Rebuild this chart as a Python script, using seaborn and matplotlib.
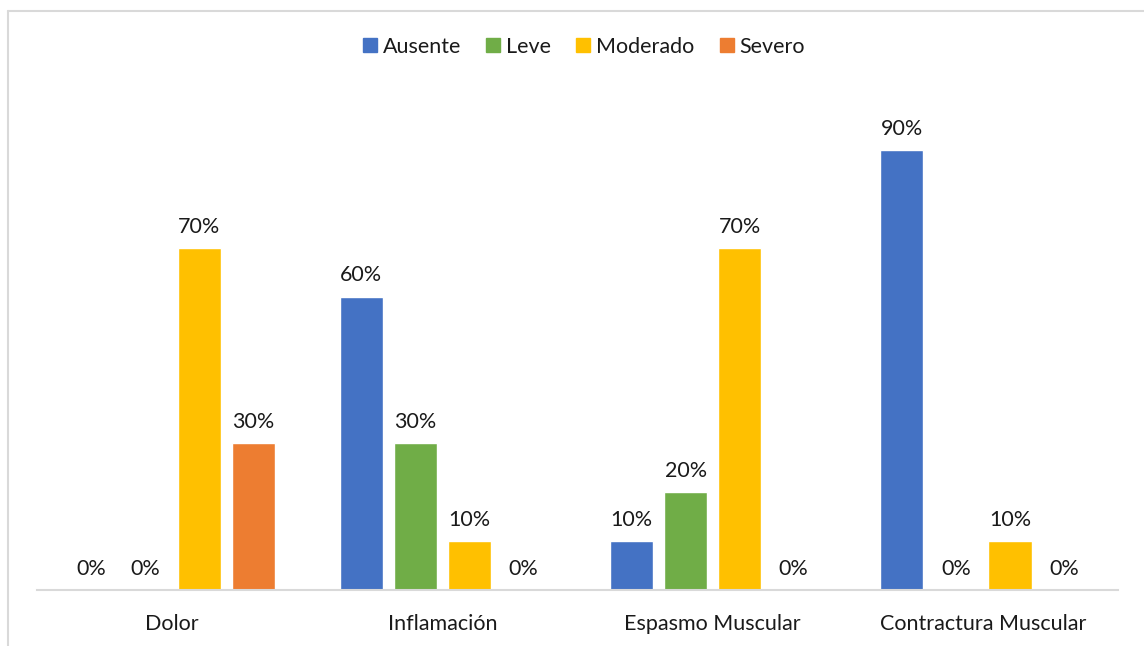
import numpy as np
import pandas as pd
import matplotlib
matplotlib.use("Agg")
import matplotlib.pyplot as plt
from matplotlib.lines import Line2D
import seaborn as sns

# datos
categorias = ["Dolor", "Inflamación", "Espasmo Muscular", "Contractura Muscular"]
niveles = ["Ausente", "Leve", "Moderado", "Severo"]
ausente = [0, 60, 10, 90]
leve = [0, 30, 20, 0]
moderado = [70, 10, 70, 10]
severo = [30, 0, 0, 0]
colores = ["#4472C4", "#70AD47", "#FFC000", "#ED7D31"]

df = pd.DataFrame({"categoria": categorias, "Ausente": ausente, "Leve": leve,
                   "Moderado": moderado, "Severo": severo})
df = df.melt(id_vars="categoria", var_name="nivel", value_name="pct")

sns.set_style("white")
plt.rcParams["font.family"] = ["Lato", "DejaVu Sans"]
fs = 15.5

W, H = 1144, 646
fig = plt.figure(figsize=(W / 100, H / 100), dpi=100)
ax = fig.add_axes([37 / W, (H - 590) / H, (1118 - 37) / W, 489 / H])

sns.barplot(data=df, x="categoria", y="pct", hue="nivel", order=categorias,
            hue_order=niveles, palette=colores, width=0.8, gap=0.2,
            saturation=1, ax=ax, legend=False)

for cont in ax.containers:
    ax.bar_label(cont, labels=[f"{v:.0f}%" for v in cont.datavalues],
                 padding=8, fontsize=fs, color="#1a1a1a")

ax.set_xlim(-0.5, 3.5)
ax.set_ylim(0, 100)
ax.set_xlabel("")
ax.set_ylabel("")
ax.set_yticks([])
ax.tick_params(axis="x", length=0, pad=17, labelsize=fs, labelcolor="#1a1a1a")
for s in ["top", "right", "left"]:
    ax.spines[s].set_visible(False)
ax.spines["bottom"].set_color("#D9D9D9")
ax.spines["bottom"].set_linewidth(1.5)

# leyenda
handles = [Line2D([], [], marker="s", linestyle="", markersize=10,
                  markerfacecolor=c, markeredgecolor=c) for c in colores]
fig.legend(handles, niveles, loc="center", bbox_to_anchor=(582 / W, (H - 47) / H),
           ncol=4, frameon=False, fontsize=fs, handletextpad=0.1,
           columnspacing=1.0, handlelength=1.0, labelcolor="#1a1a1a")

# borde del gráfico
fig.add_artist(Line2D([8 / W, 1], [(H - 11) / H, (H - 11) / H], color="#D9D9D9", lw=1.5))
fig.add_artist(Line2D([8 / W, 8 / W], [0, (H - 11) / H], color="#D9D9D9", lw=1.5))

fig.savefig("out.png", dpi=100)
